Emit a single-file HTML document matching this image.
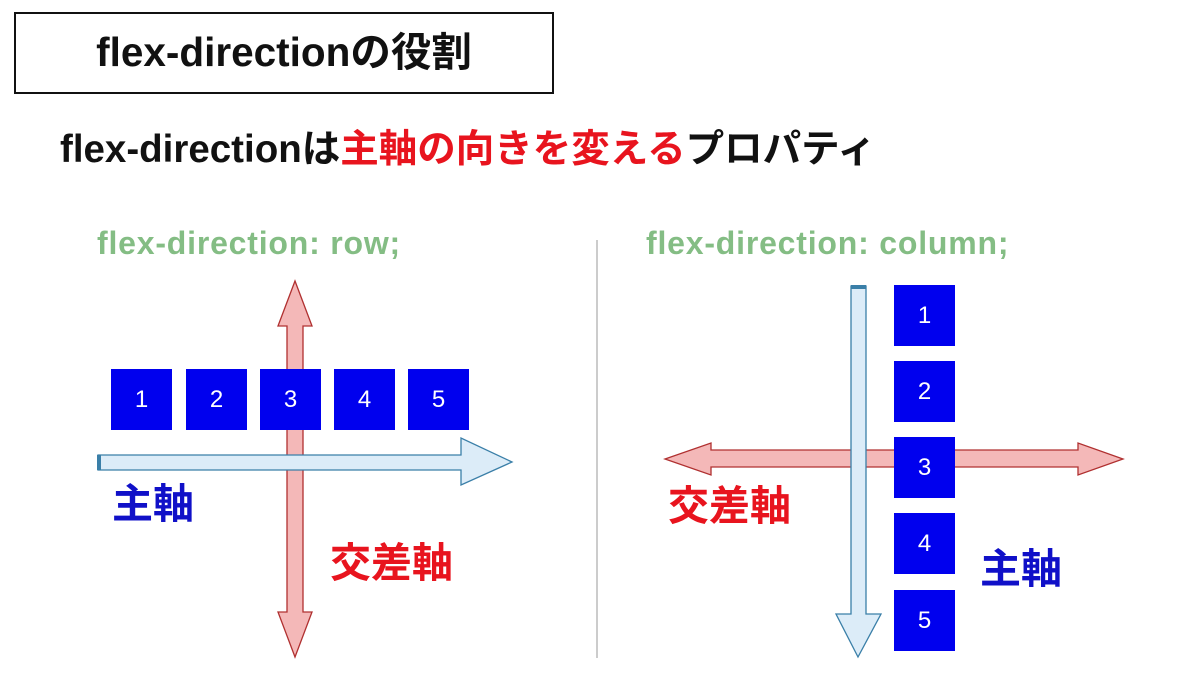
<!DOCTYPE html>
<html><head><meta charset="utf-8"><style>
body{margin:0;width:1200px;height:678px;background:#fff;position:relative;overflow:hidden;font-family:"Liberation Sans","Noto Sans CJK JP",sans-serif}
.a{position:absolute;white-space:nowrap;font-weight:bold}
.box{position:absolute;width:61px;height:61px;background:#0000ee;color:#fff;font-size:24px;display:flex;align-items:center;justify-content:center}
</style></head><body>
<div style="position:absolute;left:14px;top:12px;width:536px;height:78px;border:2px solid #111;"></div>
<div class="a" style="left:14px;top:28px;width:540px;text-align:center;font-size:40.5px;line-height:48px;color:#111">flex-directionの役割</div>
<div class="a" style="left:60px;top:126px;font-size:38.5px;line-height:48px;color:#111">flex-directionは<span style="color:#e8141e">主軸の向きを変える</span>プロパティ</div>
<div class="a" style="left:97px;top:225px;font-size:32px;line-height:36px;letter-spacing:0.8px;color:#84bd84">flex-direction: row;</div>
<div class="a" style="left:646px;top:225px;font-size:32px;line-height:36px;letter-spacing:0.8px;color:#84bd84">flex-direction: column;</div>
<div style="position:absolute;left:596px;top:240px;width:2px;height:418px;background:#ccc"></div>
<svg width="1200" height="678" style="position:absolute;left:0;top:0">
<polygon points="287,326 278,326 295,281 312,326 303,326 303,612 312,612 295,657 278,612 287,612" fill="#f4b8b8" stroke="#b03030" stroke-width="1.3"/>
<polygon points="98,455 461,455 461,438 512,462 461,485 461,470 98,470" fill="#dcecf8" stroke="#3a7fa8" stroke-width="1.3"/>
<rect x="97" y="455" width="4" height="15" fill="#3a7fa8"/>
<polygon points="711,450 711,443 665,459 711,475 711,467 1078,467 1078,475 1123,459 1078,443 1078,450" fill="#f4b8b8" stroke="#b03030" stroke-width="1.3"/>
<polygon points="851,286 866,286 866,614 881,614 858,657 836,614 851,614" fill="#dcecf8" stroke="#3a7fa8" stroke-width="1.3"/>
<rect x="851" y="285" width="15" height="4" fill="#3a7fa8"/>
</svg>
<div class="box" style="left:111px;top:369px">1</div>
<div class="box" style="left:186px;top:369px">2</div>
<div class="box" style="left:260px;top:369px">3</div>
<div class="box" style="left:334px;top:369px">4</div>
<div class="box" style="left:408px;top:369px">5</div>
<div class="box" style="left:894px;top:285px">1</div>
<div class="box" style="left:894px;top:361px">2</div>
<div class="box" style="left:894px;top:437px">3</div>
<div class="box" style="left:894px;top:513px">4</div>
<div class="box" style="left:894px;top:590px">5</div>
<div class="a" style="left:112px;top:480px;font-size:41px;line-height:48px;color:#1010c8">主軸</div>
<div class="a" style="left:330px;top:539px;font-size:41px;line-height:48px;color:#e8141e">交差軸</div>
<div class="a" style="left:668px;top:482px;font-size:41px;line-height:48px;color:#e8141e">交差軸</div>
<div class="a" style="left:980px;top:545px;font-size:41px;line-height:48px;color:#1010c8">主軸</div>
</body></html>
